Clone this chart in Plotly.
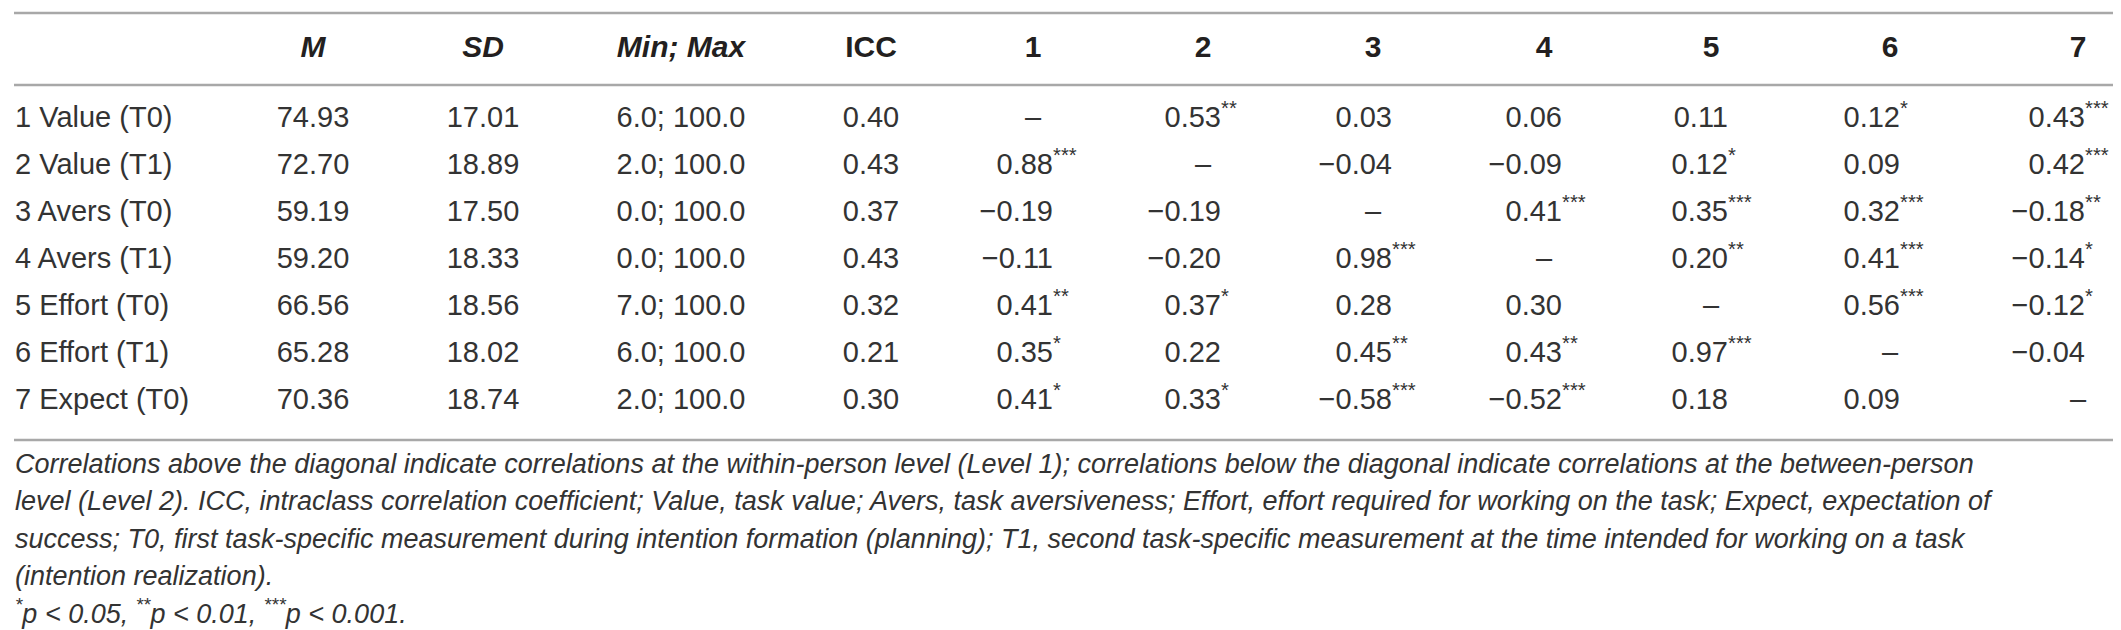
import plotly.graph_objects as go

# --------------------
# Table data
# --------------------
row_labels = ["1 Value (T0)", "2 Value (T1)", "3 Avers (T0)", "4 Avers (T1)",
              "5 Effort (T0)", "6 Effort (T1)", "7 Expect (T0)"]
means = [74.93, 72.70, 59.19, 59.20, 66.56, 65.28, 70.36]
sds = [17.01, 18.89, 17.50, 18.33, 18.56, 18.02, 18.74]
mins = [6.0, 2.0, 0.0, 0.0, 7.0, 6.0, 2.0]
maxs = [100.0, 100.0, 100.0, 100.0, 100.0, 100.0, 100.0]
iccs = [0.40, 0.43, 0.37, 0.43, 0.32, 0.21, 0.30]

# correlation matrix (None = diagonal)
corr = [
    [None, 0.53, 0.03, 0.06, 0.11, 0.12, 0.43],
    [0.88, None, -0.04, -0.09, 0.12, 0.09, 0.42],
    [-0.19, -0.19, None, 0.41, 0.35, 0.32, -0.18],
    [-0.11, -0.20, 0.98, None, 0.20, 0.41, -0.14],
    [0.41, 0.37, 0.28, 0.30, None, 0.56, -0.12],
    [0.35, 0.22, 0.45, 0.43, 0.97, None, -0.04],
    [0.41, 0.33, -0.58, -0.52, 0.18, 0.09, None],
]
sig = [
    ["", "**", "", "", "", "*", "***"],
    ["***", "", "", "", "*", "", "***"],
    ["", "", "", "***", "***", "***", "**"],
    ["", "", "***", "", "**", "***", "*"],
    ["**", "*", "", "", "", "***", "*"],
    ["*", "", "**", "**", "***", "", ""],
    ["*", "*", "***", "***", "", "", ""],
]

desc_headers = ["<i>M</i>", "<i>SD</i>", "<i>Min; Max</i>", "ICC"]
corr_headers = ["1", "2", "3", "4", "5", "6", "7"]

footnote_lines = [
    "Correlations above the diagonal indicate correlations at the within-person level (Level 1); "
    "correlations below the diagonal indicate correlations at the between-person",
    "level (Level 2). ICC, intraclass correlation coefficient; Value, task value; Avers, task aversiveness; "
    "Effort, effort required for working on the task; Expect, expectation of",
    "success; T0, first task-specific measurement during intention formation (planning); "
    "T1, second task-specific measurement at the time intended for working on a task",
    "(intention realization).",
    "<sup>*</sup>p &lt; 0.05, <sup>**</sup>p &lt; 0.01, <sup>***</sup>p &lt; 0.001.",
]

# --------------------
# Layout constants (pixels)
# --------------------
W, H = 2121, 630
label_x = 7
desc_x = [305, 475, 673, 863]
corr_head_x = [1025, 1195, 1365, 1536, 1703, 1882, 2070]
corr_right_x = [1045, 1213, 1384, 1554, 1720, 1892, 2077]
header_y = 41
row_y0, row_step = 112, 47
rule_ys = [5, 77, 432]
rule_x0, rule_x1 = 6, 2112
note_y0, note_step = 458, 37.5

FAMILY = "Liberation Sans, Arial, Helvetica, sans-serif"
BODY = dict(family=FAMILY, size=29, color="#333333")
HEAD = dict(family=FAMILY, size=30, color="#231f20")
NOTE = dict(family=FAMILY, size=27, color="#333333")

row_y = [row_y0 + i * row_step for i in range(len(row_labels))]


def fmt(v):
    return f"{v:.2f}".replace("-", "\u2212")


fig = go.Figure()

# header row
fig.add_trace(go.Scatter(
    x=desc_x + corr_head_x,
    y=[header_y] * (len(desc_x) + len(corr_head_x)),
    text=[f"<b>{h}</b>" for h in desc_headers + corr_headers],
    mode="text", textposition="middle center", textfont=HEAD,
))

# row labels
fig.add_trace(go.Scatter(
    x=[label_x] * len(row_labels), y=row_y, text=row_labels,
    mode="text", textposition="middle right", textfont=BODY,
))

# descriptive columns
desc_cols = [
    [f"{v:.2f}" for v in means],
    [f"{v:.2f}" for v in sds],
    [f"{a:.1f}; {b:.1f}" for a, b in zip(mins, maxs)],
    [f"{v:.2f}" for v in iccs],
]
for cx, col in zip(desc_x, desc_cols):
    fig.add_trace(go.Scatter(
        x=[cx] * len(col), y=row_y, text=col,
        mode="text", textposition="middle center", textfont=BODY,
    ))

# correlations: numbers right-aligned, stars hanging, dash on diagonal
num_x, num_y, num_t = [], [], []
star_x, star_y, star_t = [], [], []
dash_x, dash_y = [], []
for i, row in enumerate(corr):
    for j, v in enumerate(row):
        if v is None:
            dash_x.append(corr_head_x[j])
            dash_y.append(row_y[i])
            continue
        num_x.append(corr_right_x[j])
        num_y.append(row_y[i])
        num_t.append(fmt(v))
        if sig[i][j]:
            star_x.append(corr_right_x[j])
            star_y.append(row_y[i])
            star_t.append(f"<sup>{sig[i][j]}</sup>")

fig.add_trace(go.Scatter(x=num_x, y=num_y, text=num_t, mode="text",
                         textposition="middle left", textfont=BODY))
fig.add_trace(go.Scatter(x=star_x, y=star_y, text=star_t, mode="text",
                         textposition="middle right", textfont=BODY))
fig.add_trace(go.Scatter(x=dash_x, y=dash_y, text=["\u2013"] * len(dash_x),
                         mode="text", textposition="middle center", textfont=BODY))

# footnote
fig.add_trace(go.Scatter(
    x=[label_x] * len(footnote_lines),
    y=[note_y0 + k * note_step for k in range(len(footnote_lines))],
    text=[f"<i>{t}</i>" for t in footnote_lines],
    mode="text", textposition="middle right", textfont=NOTE,
))

# horizontal rules
for ry in rule_ys:
    fig.add_shape(type="line", xref="x", yref="y", x0=rule_x0, x1=rule_x1,
                  y0=ry, y1=ry, line=dict(color="#a8a8a8", width=2.5))

fig.update_traces(hoverinfo="skip", showlegend=False)
fig.update_layout(
    width=W, height=H,
    margin=dict(l=0, r=0, t=0, b=0),
    paper_bgcolor="white", plot_bgcolor="white",
    xaxis=dict(range=[0, W], visible=False, fixedrange=True),
    yaxis=dict(range=[H, 0], visible=False, fixedrange=True),
)

fig.write_html("out.html", config={"displayModeBar": False})
